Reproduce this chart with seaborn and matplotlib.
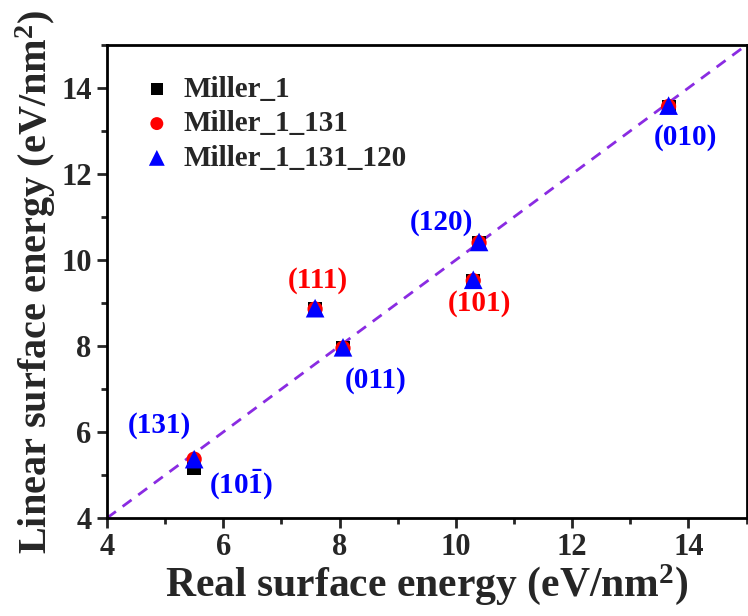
import matplotlib
matplotlib.use("Agg")
import matplotlib.pyplot as plt
import seaborn as sns
import pandas as pd
from matplotlib.ticker import MultipleLocator

# ---- data ----
facets = ["(131)", "(111)", "(011)", "(101)", "(120)", "(010)"]
real_energy = [5.50, 7.58, 8.06, 10.30, 10.40, 13.66]
miller_1 = [5.17, 8.86, 7.95, 9.52, 10.40, 13.57]
miller_1_131 = [5.37, 8.86, 7.95, 9.52, 10.40, 13.57]
miller_1_131_120 = [5.37, 8.88, 7.97, 9.54, 10.42, 13.59]
series_names = ["Miller_1", "Miller_1_131", "Miller_1_131_120"]

label_text = ["(131)", "(10$\\mathbf{\\bar{1}}$)", "(111)", "(011)", "(120)", "(101)", "(010)"]
label_x = [4.90, 6.30, 7.62, 8.62, 9.75, 10.40, 13.95]
label_y = [6.15, 4.78, 9.52, 7.20, 10.88, 9.00, 12.86]
label_color = ["blue", "blue", "red", "blue", "blue", "red", "blue"]

rows = []
for name, vals in zip(series_names, [miller_1, miller_1_131, miller_1_131_120]):
    for x, y in zip(real_energy, vals):
        rows.append({"Real": x, "Linear": y, "Series": name})
df = pd.DataFrame(rows)

sns.set_style("ticks")
plt.rcParams["font.family"] = ["Liberation Serif", "DejaVu Serif"]
plt.rcParams["font.weight"] = "bold"
plt.rcParams["mathtext.fontset"] = "custom"
plt.rcParams["mathtext.rm"] = "Liberation Serif:bold"
plt.rcParams["mathtext.bf"] = "Liberation Serif:bold"
plt.rcParams["mathtext.it"] = "Liberation Serif:bold:italic"

fig = plt.figure(figsize=(7.48, 6.16), dpi=100)
ax = fig.add_axes([0.143, 0.159, 0.855, 0.768])

ax.plot([4, 15], [4, 15], linestyle=(0, (4, 3)), color="#8A2BE2", lw=2, zorder=1)

palette = {"Miller_1": "black", "Miller_1_131": "red", "Miller_1_131_120": "blue"}
markers = {"Miller_1": "s", "Miller_1_131": "o", "Miller_1_131_120": "^"}
sizes = {"Miller_1": 100, "Miller_1_131": 120, "Miller_1_131_120": 180}
for name in series_names:
    sub = df[df["Series"] == name]
    sns.scatterplot(data=sub, x="Real", y="Linear", color=palette[name],
                    marker=markers[name], s=sizes[name], edgecolor="none",
                    label=name, ax=ax, zorder=3)

for t, x, y, c in zip(label_text, label_x, label_y, label_color):
    ax.text(x, y, t, color=c, fontsize=21, fontweight="bold", ha="center", va="center")

ax.set_xlim(4, 15)
ax.set_ylim(4, 15)
ax.xaxis.set_major_locator(MultipleLocator(2))
ax.xaxis.set_minor_locator(MultipleLocator(1))
ax.yaxis.set_major_locator(MultipleLocator(2))
ax.yaxis.set_minor_locator(MultipleLocator(1))
ax.tick_params(which="major", direction="out", length=7, width=2, labelsize=22, pad=4)
ax.tick_params(which="minor", direction="out", length=4, width=2)
for sp in ax.spines.values():
    sp.set_linewidth(2)
    sp.set_color("black")
for lab in ax.get_xticklabels() + ax.get_yticklabels():
    lab.set_fontweight("bold")

ax.set_xlabel("Real surface energy (eV/nm$^2$)", fontsize=30, fontweight="bold", labelpad=0)
ax.set_ylabel("Linear surface energy (eV/nm$^2$)", fontsize=29, fontweight="bold", labelpad=2)

leg = ax.legend(loc="upper left", bbox_to_anchor=(0.005, 0.99), frameon=False,
                prop={"size": 21, "weight": "bold"}, handletextpad=0.2,
                labelspacing=0.25, handlelength=1.4, markerscale=0.85)

fig.savefig("out.png", dpi=100)
